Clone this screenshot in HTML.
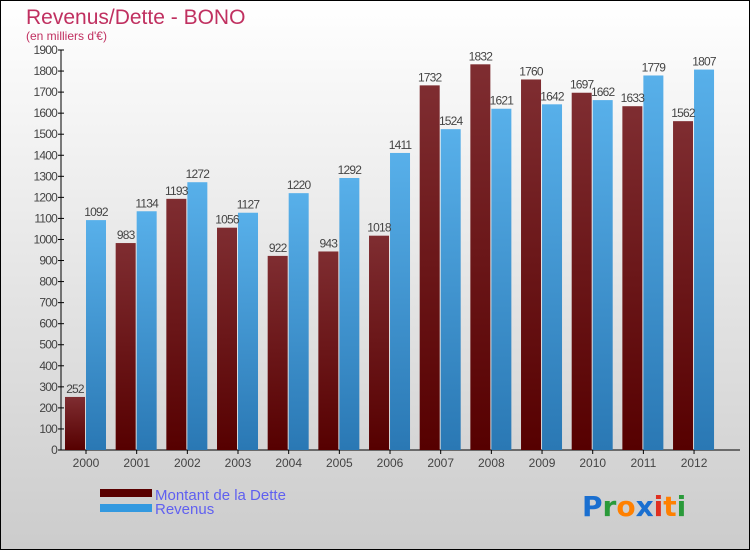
<!DOCTYPE html>
<html><head><meta charset="utf-8"><style>
body{margin:0;width:750px;height:550px;overflow:hidden;font-family:"Liberation Sans",sans-serif}
</style></head><body>
<svg width="750" height="550" xmlns="http://www.w3.org/2000/svg">
<defs>
<linearGradient id="bg" x1="0" y1="0" x2="0" y2="1"><stop offset="0" stop-color="#ffffff"/><stop offset="1" stop-color="#cccccc"/></linearGradient>
<linearGradient id="gd" x1="0" y1="0" x2="0" y2="1"><stop offset="0" stop-color="#7f2d31"/><stop offset="1" stop-color="#560000"/></linearGradient>
<linearGradient id="gr" x1="0" y1="0" x2="0" y2="1"><stop offset="0" stop-color="#58b0ea"/><stop offset="1" stop-color="#2a78b4"/></linearGradient>
</defs>
<rect x="0.5" y="0.5" width="749" height="549" fill="url(#bg)" stroke="#000"/>
<text x="26" y="24" font-size="21" fill="#c03060">Revenus/Dette - BONO</text>
<text x="26" y="40" font-size="12" fill="#c03060">(en milliers d'€)</text>
<g id="plot"></g>
<g>
<rect x="100" y="489" width="52" height="8" fill="#5a0000"/>
<text x="155" y="500" font-size="15" fill="#6060f0">Montant de la Dette</text>
<rect x="100" y="504" width="52" height="8" fill="#3399e0"/>
<text x="155" y="514" font-size="15" fill="#6060f0">Revenus</text>
</g>
<text x="582" y="516" font-size="28" font-weight="bold" font-family="DejaVu Sans,sans-serif"><tspan fill="#1a6fd0">P</tspan><tspan fill="#2a9a3a">r</tspan><tspan fill="#ff8000">o</tspan><tspan fill="#1a6fd0">x</tspan><tspan fill="#e03020">i</tspan><tspan fill="#ff8000">t</tspan><tspan fill="#2a9a3a">i</tspan></text>
</svg>
<script>
const years=["2000","2001","2002","2003","2004","2005","2006","2007","2008","2009","2010","2011","2012"];
const dette=[252,983,1193,1056,922,943,1018,1732,1832,1760,1697,1633,1562];
const revenus=[1092,1134,1272,1127,1220,1292,1411,1524,1621,1642,1662,1779,1807];
const yTicks=[0,100,200,300,400,500,600,700,800,900,1000,1100,1200,1300,1400,1500,1600,1700,1800,1900];
const NS="http://www.w3.org/2000/svg";
const g=document.getElementById('plot');
const y0=450,yTop=50,yMax=1900;
const y=v=>y0-(v/yMax)*(y0-yTop);
const x=i=>86+i*50.67;
function mk(t,a){const e=document.createElementNS(NS,t);for(const k in a)e.setAttribute(k,a[k]);g.appendChild(e);return e;}
let ax=mk('line',{x1:61,y1:50,x2:61,y2:450,stroke:'#000'});


let bx=mk('line',{x1:58,y1:450,x2:740,y2:450,stroke:'#000'});


yTicks.forEach(v=>{
 let t=mk('line',{x1:58,y1:y(v),x2:64,y2:y(v),stroke:'#000'});
 
 
 let l=mk('text',{x:57,y:y(v)+4,'font-size':12,fill:'#444','text-anchor':'end','letter-spacing':'-0.8'});
 l.textContent=v;
 
 
});
years.forEach((yr,i)=>{
 const cx=x(i);
 let t=mk('line',{x1:cx,y1:450,x2:cx,y2:454,stroke:'#000'});
 
 
 let l=mk('text',{x:cx,y:467,'font-size':12,fill:'#444','text-anchor':'middle'});
 l.textContent=yr;
 
 
 let b1=mk('rect',{x:cx-21,y:y(dette[i]),width:20,height:y0-y(dette[i]),fill:'url(#gd)'});
 
 
 let b2=mk('rect',{x:cx,y:y(revenus[i]),width:20,height:y0-y(revenus[i]),fill:'url(#gr)'});
 
 
 let v1=mk('text',{x:cx-11,y:y(dette[i])-4,'font-size':12,fill:'#444','text-anchor':'middle','letter-spacing':'-0.8'});
 v1.textContent=dette[i];
 
 
 let v2=mk('text',{x:cx+10,y:y(revenus[i])-4,'font-size':12,fill:'#444','text-anchor':'middle','letter-spacing':'-0.8'});
 v2.textContent=revenus[i];
 
 
});
</script>
</body></html>
